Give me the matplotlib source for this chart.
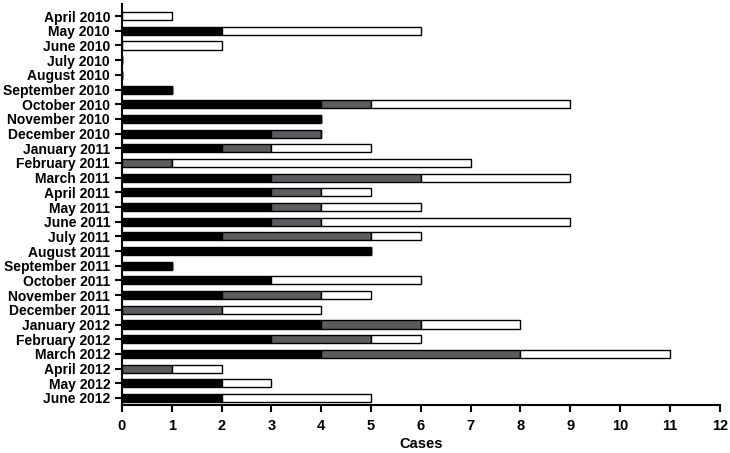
import matplotlib
matplotlib.use("Agg")
import matplotlib.pyplot as plt
import numpy as np

months = ["April 2010", "May 2010", "June 2010", "July 2010", "August 2010",
          "September 2010", "October 2010", "November 2010", "December 2010",
          "January 2011", "February 2011", "March 2011", "April 2011",
          "May 2011", "June 2011", "July 2011", "August 2011",
          "September 2011", "October 2011", "November 2011", "December 2011",
          "January 2012", "February 2012", "March 2012", "April 2012",
          "May 2012", "June 2012"]
black_cases = [0, 2, 0, 0, 0, 1, 4, 4, 3, 2, 0, 3, 3, 3, 3, 2, 5, 1, 3, 2, 0, 4, 3, 4, 0, 2, 2]
gray_cases = [0, 0, 0, 0, 0, 0, 1, 0, 1, 1, 1, 3, 1, 1, 1, 3, 0, 0, 0, 2, 2, 2, 2, 4, 1, 0, 0]
white_cases = [1, 4, 2, 0, 0, 0, 4, 0, 0, 2, 6, 3, 1, 2, 5, 1, 0, 0, 3, 1, 2, 2, 1, 3, 1, 1, 3]

plt.rcParams['font.family'] = ['Liberation Sans', 'DejaVu Sans']
plt.rcParams['font.weight'] = 'bold'

fig = plt.figure(figsize=(7.3, 4.53), dpi=100)
ax = fig.add_axes([0.167, 0.106, 0.819, 0.885])

y = np.arange(len(months))
black = np.array(black_cases)
gray = np.array(gray_cases)
white = np.array(white_cases)
h = 0.55
kw = dict(height=h, edgecolor="black", linewidth=1.0)
ax.barh(y, black, color="black", **kw)
ax.barh(y, gray, left=black, color="#5b5b60", **kw)
ax.barh(y, white, left=black + gray, color="white", **kw)

ax.set_yticks(y)
ax.set_yticklabels(months, fontsize=10, fontweight="bold")
ax.set_ylim(len(months) - 0.52, -0.82)
ax.set_xlim(0, 12)
ax.set_xticks(range(13))
ax.tick_params(axis="x", labelsize=10.5, width=1.5, length=5, pad=5)
ax.tick_params(axis="y", width=1.5, length=5)
for lab in ax.get_xticklabels():
    lab.set_fontweight("bold")
ax.set_xlabel("Cases", fontsize=10.5, fontweight="bold", labelpad=3)

for s in ["top", "right"]:
    ax.spines[s].set_visible(False)
for s in ["left", "bottom"]:
    ax.spines[s].set_linewidth(1.5)

fig.savefig("out.png", dpi=100)
